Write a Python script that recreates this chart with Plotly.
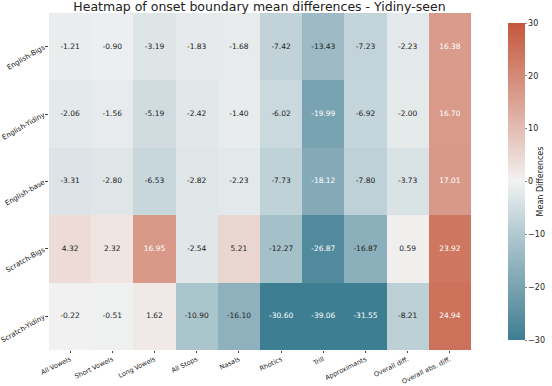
import plotly.graph_objects as go

columns = ["All Vowels", "Short Vowels", "Long Vowels", "All Stops", "Nasals",
           "Rhotics", "Trill", "Approximants", "Overall diff.", "Overall abs. diff."]
models = ["English-Bigs", "English-Yidiny", "English-base", "Scratch-Bigs", "Scratch-Yidiny"]

english_bigs = [-1.21, -0.90, -3.19, -1.83, -1.68, -7.42, -13.43, -7.23, -2.23, 16.38]
english_yidiny = [-2.06, -1.56, -5.19, -2.42, -1.40, -6.02, -19.99, -6.92, -2.00, 16.70]
english_base = [-3.31, -2.80, -6.53, -2.82, -2.23, -7.73, -18.12, -7.80, -3.73, 17.01]
scratch_bigs = [4.32, 2.32, 16.95, -2.54, 5.21, -12.27, -26.87, -16.87, 0.59, 23.92]
scratch_yidiny = [-0.22, -0.51, 1.62, -10.90, -16.10, -30.60, -39.06, -31.55, -8.21, 24.94]

z = [english_bigs, english_yidiny, english_base, scratch_bigs, scratch_yidiny]

cmap = [
    [0.0, "#3d7e92"],
    [0.167, "#7aa3b1"],
    [0.333, "#b0c8d0"],
    [0.5, "#f2f2f2"],
    [0.667, "#e3bcb2"],
    [0.833, "#d48a77"],
    [1.0, "#c4573d"],
]

fig = go.Figure()
fig.add_trace(go.Heatmap(
    z=z, x=columns, y=models, zmin=-30, zmax=30, colorscale=cmap,
    xgap=0, ygap=0,
    colorbar=dict(
        thickness=17, len=337, lenmode="pixels",
        x=1.088, xanchor="left", xpad=0,
        y=0.5, yanchor="middle",
        tickvals=[-30, -20, -10, 0, 10, 20, 30],
        ticks="outside", ticklen=2, tickcolor="#888",
        tickfont=dict(size=8, color="#222"),
        outlinewidth=0,
        title=dict(text="Mean Differences", side="right", font=dict(size=8)),
    ),
))

# cell labels
xs, ys, txt, cols = [], [], [], []
for m, row in zip(models, z):
    for c, v in zip(columns, row):
        xs.append(c)
        ys.append(m)
        txt.append(f"{v:.2f}")
        cols.append("white" if (v < -17 or v > 12) else "#222")
fig.add_trace(go.Scatter(
    x=xs, y=ys, mode="text", text=txt,
    textfont=dict(size=7.5, color=cols, family="DejaVu Sans"),
    hoverinfo="skip", showlegend=False,
))

fig.update_layout(
    width=552, height=386,
    margin=dict(l=49, r=81, t=13, b=36, autoexpand=False),
    paper_bgcolor="white", plot_bgcolor="white",
    font=dict(family="DejaVu Sans", color="#222"),
    title=dict(text="Heatmap of onset boundary mean differences - Yidiny-seen",
               x=0.47, xanchor="center", y=1.0, yanchor="top", pad=dict(t=2),
               font=dict(size=12.5)),
)
fig.update_xaxes(tickangle=-26, tickfont=dict(size=6.5), ticks="outside",
                 ticklen=2, showgrid=False, zeroline=False)
fig.update_yaxes(tickangle=-30, tickfont=dict(size=7), ticks="outside",
                 ticklen=3, showgrid=False, zeroline=False, autorange="reversed")

# page has a default 8px body margin; drop it so the figure fills the window
fig.write_html("out.html", config={"displayModeBar": False},
               post_script="document.body.style.margin='0';")
